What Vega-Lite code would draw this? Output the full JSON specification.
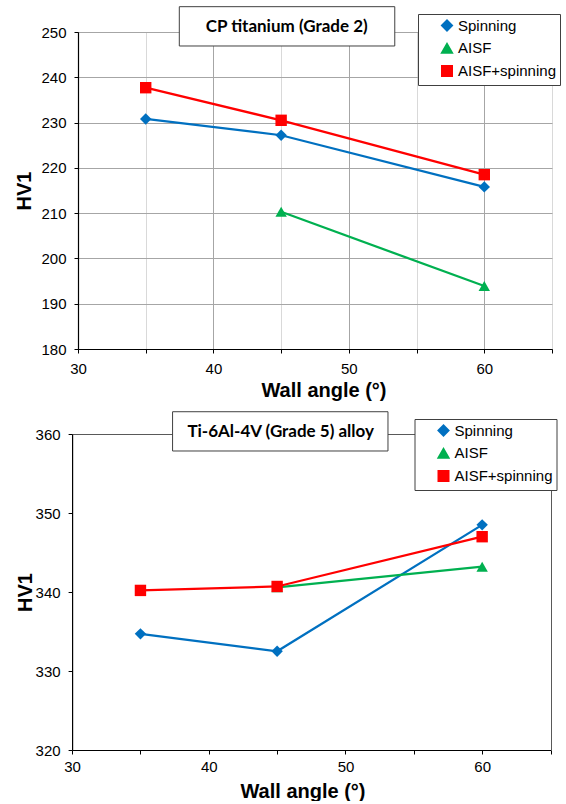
{
  "$schema": "https://vega.github.io/schema/vega-lite/v6.json",
  "padding": {"left": 14, "top": 5, "right": 0, "bottom": 0},
  "background": "white",
  "spacing": 10,
  "datasets": {
    "cp": [
      {"series": "Spinning", "angle": 35, "hv": 230.8},
      {"series": "Spinning", "angle": 45, "hv": 227.2},
      {"series": "Spinning", "angle": 60, "hv": 215.8},
      {"series": "AISF", "angle": 45, "hv": 210.3},
      {"series": "AISF", "angle": 60, "hv": 193.9},
      {"series": "AISF+spinning", "angle": 35, "hv": 237.7},
      {"series": "AISF+spinning", "angle": 45, "hv": 230.5},
      {"series": "AISF+spinning", "angle": 60, "hv": 218.5}
    ],
    "ti": [
      {"series": "Spinning", "angle": 35, "hv": 334.7},
      {"series": "Spinning", "angle": 45, "hv": 332.5},
      {"series": "Spinning", "angle": 60, "hv": 348.5},
      {"series": "AISF", "angle": 45, "hv": 340.6},
      {"series": "AISF", "angle": 60, "hv": 343.2},
      {"series": "AISF+spinning", "angle": 35, "hv": 340.2},
      {"series": "AISF+spinning", "angle": 45, "hv": 340.7},
      {"series": "AISF+spinning", "angle": 60, "hv": 347.0}
    ]
  },
  "config": {
    "font": "Liberation Sans",
    "view": {"stroke": "#595959", "strokeWidth": 1},
    "axis": {
      "domainColor": "black",
      "domainWidth": 1.2,
      "tickColor": "black",
      "tickSize": 4,
      "labelFont": "Liberation Sans",
      "labelFontSize": 15,
      "labelColor": "black",
      "labelFlush": false,
      "labelOverlap": false,
      "titleFont": "Liberation Sans",
      "titleFontWeight": "bold",
      "titleFontSize": 20,
      "titleColor": "black",
      "gridWidth": 1
    },
    "legend": {
      "title": null,
      "fillColor": "white",
      "strokeColor": "#404040",
      "padding": 4,
      "symbolOffset": 17.5,
      "symbolSize": 100,
      "symbolStrokeWidth": 2,
      "labelFont": "Liberation Sans",
      "labelFontSize": 15,
      "labelColor": "black",
      "labelOffset": 3.5,
      "rowPadding": 4.8
    }
  },
  "resolve": {
    "scale": {"color": "independent", "shape": "independent", "fill": "independent"},
    "legend": {"color": "independent", "shape": "independent", "fill": "independent"}
  },
  "vconcat": [
    {
      "width": 474,
      "height": 317,
      "layer": [
        {
          "data": {"name": "cp"},
          "mark": {"type": "line", "strokeWidth": 2.25},
          "encoding": {
            "x": {
              "field": "angle", "type": "quantitative",
              "scale": {"domain": [30, 65], "nice": false},
              "axis": {
                "values": [30, 35, 40, 45, 50, 55, 60, 65],
                "labelExpr": "datum.value % 10 === 0 ? datum.label : ''",
                "labelPadding": 8,
                "title": "Wall angle (°)",
                "titlePadding": 4,
                "titleX": 245.5,
                "gridColor": {"condition": {"test": "datum.value % 10 === 0", "value": "#a6a6a6"}, "value": "#d9d9d9"}
              }
            },
            "y": {
              "field": "hv", "type": "quantitative",
              "scale": {"domain": [180, 250], "nice": false},
              "axis": {
                "values": [180, 185, 190, 195, 200, 205, 210, 215, 220, 225, 230, 235, 240, 245, 250],
                "labelExpr": "datum.value % 10 === 0 ? datum.label : ''",
                "labelPadding": 8,
                "title": "HV1",
                "titlePadding": 6,
                "gridColor": {"condition": {"test": "datum.value % 10 === 0", "value": "#a6a6a6"}, "value": "#d9d9d9"}
              }
            },
            "color": {
              "field": "series", "type": "nominal",
              "scale": {"domain": ["Spinning", "AISF", "AISF+spinning"], "range": ["#0070C0", "#00B050", "#FF0000"]},
              "legend": {
                "orient": "none", "legendX": 340, "legendY": -18,
                "labelExpr": "datum.label + '  '"
              }
            }
          }
        },
        {
          "data": {"name": "cp"},
          "mark": {"type": "point", "filled": true, "opacity": 1, "size": 130},
          "encoding": {
            "x": {"field": "angle", "type": "quantitative"},
            "y": {"field": "hv", "type": "quantitative"},
            "fill": {
              "field": "series", "type": "nominal",
              "scale": {"domain": ["Spinning", "AISF", "AISF+spinning"], "range": ["#0070C0", "#00B050", "#FF0000"]},
              "legend": null
            },
            "shape": {
              "field": "series", "type": "nominal",
              "scale": {"domain": ["Spinning", "AISF", "AISF+spinning"], "range": ["diamond", "triangle-up", "square"]},
              "legend": null
            }
          }
        },
        {
          "data": {"values": [{"label": "CP titanium (Grade 2)"}]},
          "mark": {"type": "rect", "fill": "white", "stroke": "#404040", "strokeWidth": 1},
          "encoding": {
            "x": {"datum": 37.48, "type": "quantitative"},
            "x2": {"datum": 53.39},
            "y": {"datum": 255.59, "type": "quantitative"},
            "y2": {"datum": 246.91}
          }
        },
        {
          "data": {"values": [{"label": "CP titanium (Grade 2)"}]},
          "mark": {"type": "text", "font": "Lato", "fontWeight": "bold", "fontSize": 17, "color": "black"},
          "encoding": {
            "x": {"datum": 45.41, "type": "quantitative"},
            "y": {"datum": 251.17, "type": "quantitative"},
            "text": {"field": "label"}
          }
        }
      ]
    },
    {
      "width": 472.5,
      "height": 316,
      "view": {"stroke": null},
      "layer": [
        {
          "data": {"name": "ti"},
          "mark": {"type": "line", "strokeWidth": 2.25},
          "encoding": {
            "x": {
              "field": "angle", "type": "quantitative",
              "scale": {"domain": [30, 65], "nice": false, "range": [-5.9, 472.5]},
              "axis": {
                "values": [30, 35, 40, 45, 50, 55, 60, 65],
                "labelExpr": "datum.value % 10 === 0 ? datum.label : ''",
                "labelPadding": 5,
                "title": "Wall angle (°)",
                "titlePadding": 7,
                "titleX": 224.5,
                "gridColor": {"condition": {"test": "datum.value === 65", "value": "#595959"}, "value": {"expr": "datum.value % 10 === 0 ? '#a6a6a6' : '#d9d9d9'"}}
              }
            },
            "y": {
              "field": "hv", "type": "quantitative",
              "scale": {"domain": [320, 360], "nice": false},
              "axis": {
                "values": [320, 325, 330, 335, 340, 345, 350, 355, 360],
                "labelExpr": "datum.value % 10 === 0 ? datum.label : ''",
                "labelPadding": 8,
                "offset": 5.9,
                "title": "HV1",
                "titlePadding": 0,
                "gridColor": {"condition": {"test": "datum.value === 360", "value": "#595959"}, "value": {"expr": "datum.value % 10 === 0 ? '#a6a6a6' : '#d9d9d9'"}}
              }
            },
            "color": {
              "field": "series", "type": "nominal",
              "scale": {"domain": ["Spinning", "AISF", "AISF+spinning"], "range": ["#0070C0", "#00B050", "#FF0000"]},
              "legend": {
                "orient": "none", "legendX": 336.5, "legendY": -15,
                "labelExpr": "datum.label + '  '"
              }
            }
          }
        },
        {
          "data": {"name": "ti"},
          "mark": {"type": "point", "filled": true, "opacity": 1, "size": 130},
          "encoding": {
            "x": {"field": "angle", "type": "quantitative"},
            "y": {"field": "hv", "type": "quantitative"},
            "fill": {
              "field": "series", "type": "nominal",
              "scale": {"domain": ["Spinning", "AISF", "AISF+spinning"], "range": ["#0070C0", "#00B050", "#FF0000"]},
              "legend": null
            },
            "shape": {
              "field": "series", "type": "nominal",
              "scale": {"domain": ["Spinning", "AISF", "AISF+spinning"], "range": ["diamond", "triangle-up", "square"]},
              "legend": null
            }
          }
        },
        {
          "data": {"values": [{"label": "Ti-6Al-4V (Grade 5) alloy"}]},
          "mark": {"type": "rect", "fill": "white", "stroke": "#404040", "strokeWidth": 1},
          "encoding": {
            "x": {"datum": 37.35, "type": "quantitative"},
            "x2": {"datum": 53.11},
            "y": {"datum": 362.82, "type": "quantitative"},
            "y2": {"datum": 357.85}
          }
        },
        {
          "data": {"values": [{"label": "Ti-6Al-4V (Grade 5) alloy"}]},
          "mark": {"type": "text", "font": "Lato", "fontWeight": "bold", "fontSize": 17, "color": "black"},
          "encoding": {
            "x": {"datum": 45.26, "type": "quantitative"},
            "y": {"datum": 360.25, "type": "quantitative"},
            "text": {"field": "label"}
          }
        }
      ]
    }
  ]
}
